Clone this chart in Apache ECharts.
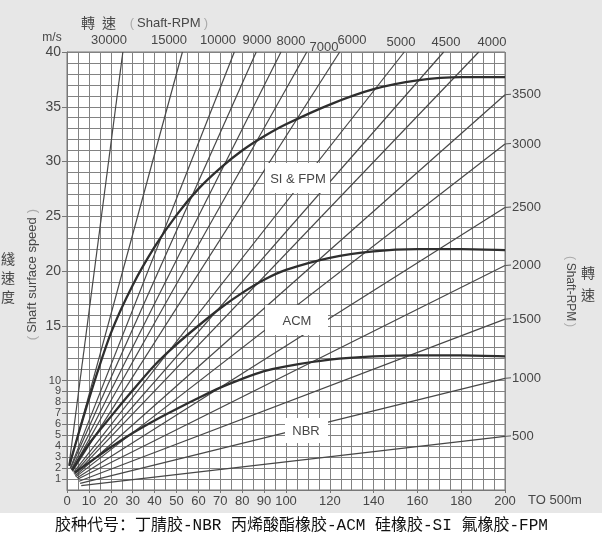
<!DOCTYPE html>
<html><head><meta charset="utf-8">
<script src="https://cdn.jsdelivr.net/npm/echarts@6/dist/echarts.min.js"></script>
<style>html,body{margin:0;padding:0;background:#e7e7e7;}#c{width:602px;height:541px;}</style>
</head><body><div id="c"></div>
<script>
// ---- data ----
const rpmLabels = ['30000','15000','10000','9000','8000','7000','6000','5000','4500','4000','3500','3000','2500','2000','1500','1000','500'];
// start / end of each RPM line  [diameter mm, surface speed m/s]
const lineStart = [[1,2.4],[1.2,2.2],[1.5,2.0],[1.7,2.0],[2,1.9],[2.2,1.8],[2.5,1.7],[3,1.6],[3.2,1.5],[3.5,1.4],[3.8,1.3],[4,1.2],[4.5,1.1],[5,1.0],[5.5,0.8],[6,0.6],[6.5,0.4]];
const lineEnd = [[25.5,40],[52.7,40],[76.4,40],[86.4,40],[97.7,40],[109.5,40],[124.5,40],[154,40],[172,40],[188,40],[200,36.1],[200,31.6],[200,25.8],[200,20.5],[200,15.6],[200,10.2],[200,4.9]];
const siFpmCurve = [[1,2.2],[10,8.3],[20,14.3],[30,18.7],[40,22.2],[50,25.1],[60,27.5],[70,29.4],[80,31.0],[90,32.3],[100,33.4],[120,35.2],[140,36.6],[160,37.4],[180,37.7],[200,37.7]];
const acmCurve = [[2.3,1.8],[10,4.2],[20,6.7],[30,9.1],[40,11.4],[50,13.3],[60,15.0],[70,16.6],[80,18.0],[90,19.2],[100,20.1],[120,21.2],[140,21.8],[160,22.0],[180,22.0],[200,21.9]];
const nbrCurve = [[3.6,1.6],[10,2.5],[20,3.9],[30,5.2],[40,6.35],[50,7.4],[60,8.4],[70,9.35],[80,10.15],[90,10.85],[100,11.3],[120,11.9],[140,12.2],[160,12.3],[180,12.3],[200,12.2]];
const curveNames = ['SI & FPM','ACM','NBR'];
const xTickLabels = [0,10,20,30,40,50,60,70,80,90,100,120,140,160,180,200];
const yTickLabels = [1,2,3,4,5,6,7,8,9,10,15,20,25,30,35,40];
const caption = '胶种代号：丁腈胶-NBR 丙烯酸酯橡胶-ACM 硅橡胶-SI 氟橡胶-FPM';

// ---- layout (pixels) ----
const topLabelPos = [[109,40],[169,40],[218,40],[257,40],[291,41],[324,47],[352,40],[401,42],[446,42],[492,42]];
const curveBoxes = [[265,163,65,30,298,179],[265,305,63,30,297,321],[285,418,43,25,306,431]];

const FONT = 'Liberation Sans, Arial, sans-serif';
const TXT = '#474747';
const chart = echarts.init(document.getElementById('c'));

const series = [];
rpmLabels.forEach((r, i) => {
  series.push({type:'line', name:r, data:[lineStart[i], lineEnd[i]], symbol:'none', silent:true,
    lineStyle:{color:'#474747', width:1.2}, z:3});
});
[siFpmCurve, acmCurve, nbrCurve].forEach((c, i) => {
  series.push({type:'line', name:curveNames[i], data:c, smooth:0.3, symbol:'none', silent:true,
    lineStyle:{color:'#2e2e2e', width:2.3}, z:4});
});

const gridLine = {color:'#828282', width:1};
chart.setOption({
  animation:false,
  backgroundColor:'#e7e7e7',
  grid:{left:67, right:97, top:52, bottom:51, show:true, backgroundColor:'#ffffff', borderColor:'#777777', borderWidth:1},
  xAxis:[
    {type:'value', min:0, max:200, interval:5, axisLine:{show:true, lineStyle:{color:'#777777'}}, axisTick:{show:false}, axisLabel:{show:false}, splitLine:{show:true, lineStyle:gridLine}},
    {type:'value', min:0, max:200, position:'bottom', axisLine:{show:false}, splitLine:{show:false},
     axisTick:{show:true, customValues:xTickLabels, length:3, lineStyle:{color:'#777777'}},
     axisLabel:{customValues:xTickLabels, margin:5, fontSize:13, color:TXT, fontFamily:FONT}}
  ],
  yAxis:[
    {type:'value', min:0, max:40, interval:1, axisLine:{show:true, lineStyle:{color:'#777777'}}, axisTick:{show:false}, axisLabel:{show:false}, splitLine:{show:true, lineStyle:gridLine}},
    {type:'value', min:0, max:40, position:'left', axisLine:{show:false}, splitLine:{show:false},
     axisTick:{show:true, customValues:yTickLabels, length:5, lineStyle:{color:'#777777'}},
     axisLabel:{customValues:yTickLabels, margin:6, color:TXT, fontFamily:FONT,
       formatter: v => v <= 10 ? '{s|' + v + '}' : '{b|' + v + '}',
       rich:{s:{fontSize:11, color:TXT, fontFamily:FONT}, b:{fontSize:14, color:TXT, fontFamily:FONT}}}}
  ],
  series: series
});

// ---- annotations ----
const g = [];
g.push({type:'rect', shape:{x:0, y:513, width:602, height:28}, style:{fill:'#ffffff'}, z:-1});
const txt = (x, y, text, opt) => Object.assign({type:'text', x:x, y:y, z:50,
  style:Object.assign({text:text, fill:TXT, font:'13px ' + FONT, align:'center', verticalAlign:'middle'}, (opt && opt.style) || {})}, opt && opt.el || {});

// top title
g.push(txt(88, 23, '轉', {style:{font:'14px Noto Sans CJK TC'}}));
g.push(txt(109, 23, '速', {style:{font:'14px Noto Sans CJK TC'}}));
g.push(txt(132, 23, '(', {style:{fill:'#aaaaaa'}}));
g.push(txt(137, 23, 'Shaft-RPM', {style:{align:'left'}}));
g.push(txt(206, 23, ')', {style:{fill:'#aaaaaa'}}));
g.push(txt(52, 38, 'm/s', {style:{font:'12px ' + FONT}}));

// top RPM labels
topLabelPos.forEach((p, i) => g.push(txt(p[0], p[1], rpmLabels[i])));

// right RPM labels, placed at line ends through the axis scale
for (let i = topLabelPos.length; i < rpmLabels.length; i++) {
  const p = chart.convertToPixel({gridIndex:0}, lineEnd[i]);
  g.push({type:'line', shape:{x1:p[0], y1:p[1], x2:p[0] + 6, y2:p[1] - 0.5}, style:{stroke:'#5a5a5a', lineWidth:1}, z:50});
  g.push(txt(p[0] + 7, p[1], rpmLabels[i], {style:{align:'left'}}));
}

// x-axis suffix
g.push(txt(528, 500, 'TO 500m', {style:{align:'left'}}));

// left axis titles
g.push(txt(8, 259, '綫', {style:{font:'14px Noto Sans CJK TC'}}));
g.push(txt(8, 278, '速', {style:{font:'14px Noto Sans CJK TC'}}));
g.push(txt(8, 297, '度', {style:{font:'14px Noto Sans CJK TC'}}));
g.push(txt(32, 275, 'Shaft surface speed', {el:{rotation:Math.PI / 2}}));
g.push(txt(32, 211, ')', {el:{rotation:Math.PI / 2}, style:{fill:'#aaaaaa'}}));
g.push(txt(32, 338, '(', {el:{rotation:Math.PI / 2}, style:{fill:'#aaaaaa'}}));

// right axis titles
g.push(txt(570, 292, 'Shaft-RPM', {el:{rotation:-Math.PI / 2}, style:{font:'12px ' + FONT}}));
g.push(txt(570, 258, '(', {el:{rotation:-Math.PI / 2}, style:{fill:'#aaaaaa', font:'12px ' + FONT}}));
g.push(txt(570, 325, ')', {el:{rotation:-Math.PI / 2}, style:{fill:'#aaaaaa', font:'12px ' + FONT}}));
g.push(txt(588, 273, '轉', {style:{font:'14px Noto Sans CJK TC'}}));
g.push(txt(588, 295, '速', {style:{font:'14px Noto Sans CJK TC'}}));

// curve label boxes
curveBoxes.forEach((b, i) => {
  g.push({type:'rect', shape:{x:b[0], y:b[1], width:b[2], height:b[3]}, style:{fill:'#ffffff'}, z:40});
  g.push(txt(b[4], b[5], curveNames[i]));
});

// caption
g.push(txt(55, 526, caption, {style:{align:'left', fill:'#111111', font:'16px Liberation Mono, Noto Sans CJK SC'}}));

chart.setOption({graphic:{elements:g}});
</script>
</body></html>
